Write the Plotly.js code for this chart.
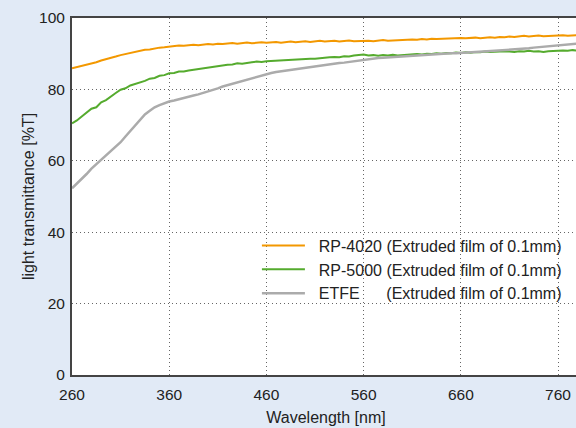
<!DOCTYPE html>
<html>
<head>
<meta charset="utf-8">
<script src="https://cdn.plot.ly/plotly-3.0.1.min.js"></script>
<style>
html,body{margin:0;padding:0;overflow:hidden;background:#e1eaf6;width:576px;height:428px;}
#chart{width:580px;height:428px;}
</style>
</head>
<body>
<div id="chart"></div>
<script>
const wavelength = [
260,265,270,275,280,285,290,295,300,305,
310,315,320,325,330,335,340,345,350,355,
360,365,370,375,380,385,390,395,400,405,
410,415,420,425,430,435,440,445,450,455,
460,465,470,475,480,485,490,495,500,505,
510,515,520,525,530,535,540,545,550,555,
560,565,570,575,580,585,590,595,600,605,
610,615,620,625,630,635,640,645,650,655,
660,665,670,675,680,685,690,695,700,705,
710,715,720,725,730,735,740,745,750,755,
760,765,770,775,780];

const rp4020 = [
85.9,86.2,86.6,86.9,87.3,87.6,88.1,88.4,88.8,89.2,
89.6,89.9,90.3,90.5,90.8,91.1,91.2,91.5,91.7,91.8,
92.0,92.1,92.3,92.2,92.4,92.5,92.4,92.6,92.7,92.6,
92.8,92.7,92.9,93.0,92.8,93.0,93.1,92.9,93.1,93.2,
93.1,93.2,93.3,93.1,93.3,93.4,93.2,93.3,93.5,93.3,
93.4,93.6,93.4,93.5,93.6,93.4,93.6,93.7,93.5,93.6,
93.7,93.6,93.5,93.7,93.8,93.6,93.7,93.9,93.8,93.9,
94.0,93.9,94.1,94.0,94.2,94.1,94.2,94.3,94.2,94.3,
94.4,94.3,94.4,94.5,94.3,94.5,94.6,94.5,94.7,94.6,
94.8,94.7,94.9,95.0,94.8,95.0,95.1,94.9,95.0,95.1,
95.0,95.2,95.0,95.1,95.2];

const rp5000 = [
70.5,71.3,72.4,73.5,74.6,75.0,76.4,77.0,78.1,79.0,
79.9,80.3,81.1,81.5,82.1,82.4,83.0,83.2,83.8,84.0,
84.5,84.6,85.0,85.0,85.3,85.5,85.8,85.9,86.2,86.3,
86.6,86.6,86.9,87.0,87.3,87.2,87.5,87.6,87.8,87.7,
87.9,88.0,88.1,88.0,88.3,88.2,88.4,88.5,88.5,88.6,
88.6,88.8,88.9,89.0,89.1,89.0,89.3,89.2,89.5,89.7,
89.8,89.5,89.6,89.4,89.6,89.5,89.7,89.5,89.6,89.8,
89.7,89.9,89.8,90.0,89.9,90.1,90.0,90.2,90.1,90.3,
90.2,90.4,90.3,90.5,90.4,90.6,90.5,90.6,90.5,90.7,
90.6,90.5,90.7,90.6,90.8,90.6,90.7,90.5,90.7,90.8,
90.7,90.9,90.8,91.0,90.9];

const etfe = [
52.3,53.6,55.0,56.3,57.8,59.0,60.2,61.4,62.6,63.9,
65.2,66.8,68.3,70.0,71.5,73.0,74.0,75.0,75.6,76.2,
76.6,76.9,77.3,77.6,77.9,78.3,78.6,79.0,79.3,79.8,
80.3,80.8,81.2,81.6,82.0,82.4,82.8,83.2,83.6,84.0,
84.4,84.6,84.9,85.1,85.3,85.5,85.7,85.8,86.0,86.2,
86.4,86.6,86.8,87.0,87.2,87.4,87.5,87.7,88.0,88.2,
88.4,88.5,88.6,88.8,88.9,89.0,89.0,89.1,89.2,89.3,
89.4,89.5,89.6,89.6,89.7,89.8,89.9,90.0,90.1,90.1,
90.2,90.3,90.4,90.4,90.5,90.6,90.7,90.7,90.8,90.9,
91.0,91.1,91.3,91.4,91.5,91.7,91.8,91.9,92.0,92.1,
92.2,92.4,92.5,92.6,92.8];

const NB = '\u00a0';
const seriesNames = [
  NB + NB + "RP-4020 (Extruded film of 0.1mm)",
  NB + NB + "RP-5000 (Extruded film of 0.1mm)",
  NB + NB + "ETFE" + NB.repeat(6) + "(Extruded film of 0.1mm)"
];
const xTicks = [260,360,460,560,660,760];
const yTicks = [0,20,40,60,80,100];

const traces = [
  {x: wavelength, y: rp4020, name: seriesNames[0], mode: 'lines', line: {color: '#f39800', width: 2}},
  {x: wavelength, y: rp5000, name: seriesNames[1], mode: 'lines', line: {color: '#55ab2e', width: 2}},
  {x: wavelength, y: etfe, name: seriesNames[2], mode: 'lines', line: {color: '#ababab', width: 2.5}}
];

const fam = 'Liberation Sans, Arial, sans-serif';
const tickFont = {family: fam, size: 15.5, color: '#222'};
const titleFont = {family: fam, size: 16, color: '#222'};

const layout = {
  width: 580, height: 428,
  margin: {l: 72, r: 0, t: 18, b: 53},
  paper_bgcolor: '#e1eaf6',
  plot_bgcolor: '#ffffff',
  font: tickFont,
  showlegend: true,
  legend: {x: 0.364, y: 0.41, xanchor: 'left', yanchor: 'top', bgcolor: 'rgba(0,0,0,0)',
           font: {family: fam, size: 16, color: '#222'}, itemwidth: 43},
  xaxis: {
    range: [260, 782.6], tickmode: 'array', tickvals: xTicks, ticktext: xTicks.map(String),
    showline: true, linecolor: '#444', linewidth: 2, mirror: true,
    showgrid: true, gridcolor: '#666', gridwidth: 1, griddash: '1px,3px',
    zeroline: false, ticks: '', ticklabelstandoff: 4, tickfont: tickFont,
    title: {text: 'Wavelength [nm]', font: titleFont, standoff: 10}
  },
  yaxis: {
    range: [0, 100], tickmode: 'array', tickvals: yTicks, ticktext: yTicks.map(String),
    showline: true, linecolor: '#444', linewidth: 2, mirror: true,
    showgrid: true, gridcolor: '#666', gridwidth: 1, griddash: '1px,3px',
    zeroline: false, ticks: '', ticklabelstandoff: 2, tickfont: tickFont,
    title: {text: 'light transmittance [%T]', font: titleFont, standoff: 0}
  }
};

Plotly.newPlot('chart', traces, layout, {displayModeBar: false, staticPlot: true});
</script>
</body>
</html>
